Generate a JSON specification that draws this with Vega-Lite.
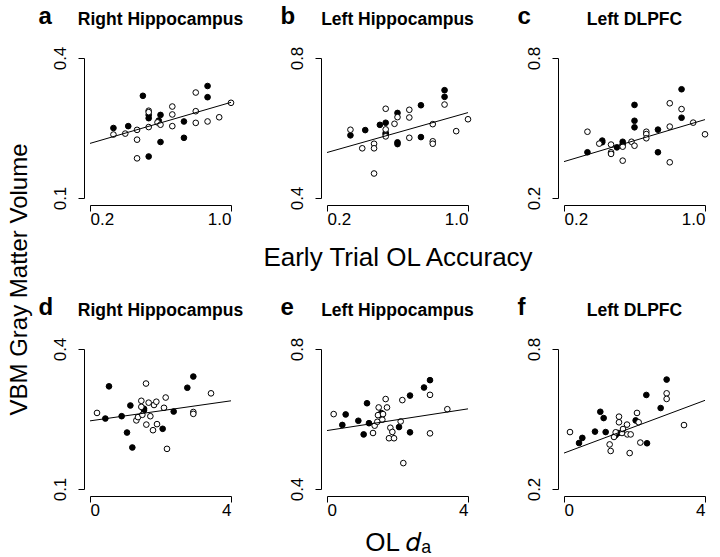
{
"$schema":"https://vega.github.io/schema/vega-lite/v6.json",
"background":"white",
"padding":{"left":7,"top":4,"right":5,"bottom":4},
"title":{"text":"VBM Gray Matter Volume","orient":"left","anchor":"middle","frame":"bounds","fontSize":24,"fontWeight":"normal","baseline":"bottom","offset":-18,"dy":0},
"datasets":{
"pts":[
{"p":"a","x":0.333,"y":0.250,"g":"f"},{"p":"a","x":0.417,"y":0.254,"g":"f"},{"p":"a","x":0.5,"y":0.319,"g":"f"},{"p":"a","x":0.533,"y":0.271,"g":"f"},{"p":"a","x":0.533,"y":0.278,"g":"f"},{"p":"a","x":0.6,"y":0.278,"g":"f"},{"p":"a","x":0.59,"y":0.266,"g":"f"},{"p":"a","x":0.733,"y":0.264,"g":"f"},{"p":"a","x":0.733,"y":0.229,"g":"f"},{"p":"a","x":0.6,"y":0.220,"g":"f"},{"p":"a","x":0.533,"y":0.189,"g":"f"},{"p":"a","x":0.867,"y":0.340,"g":"f"},{"p":"a","x":0.867,"y":0.316,"g":"f"},
{"p":"a","x":0.333,"y":0.236,"g":"o"},{"p":"a","x":0.4,"y":0.238,"g":"o"},{"p":"a","x":0.467,"y":0.246,"g":"o"},{"p":"a","x":0.467,"y":0.225,"g":"o"},{"p":"a","x":0.467,"y":0.185,"g":"o"},{"p":"a","x":0.533,"y":0.287,"g":"o"},{"p":"a","x":0.533,"y":0.284,"g":"o"},{"p":"a","x":0.533,"y":0.252,"g":"o"},{"p":"a","x":0.583,"y":0.262,"g":"o"},{"p":"a","x":0.6,"y":0.257,"g":"o"},{"p":"a","x":0.667,"y":0.296,"g":"o"},{"p":"a","x":0.667,"y":0.279,"g":"o"},{"p":"a","x":0.667,"y":0.254,"g":"o"},{"p":"a","x":0.8,"y":0.326,"g":"o"},{"p":"a","x":0.8,"y":0.286,"g":"o"},{"p":"a","x":0.8,"y":0.261,"g":"o"},{"p":"a","x":0.867,"y":0.264,"g":"o"},{"p":"a","x":0.933,"y":0.273,"g":"o"},{"p":"a","x":1.0,"y":0.304,"g":"o"},
{"p":"b","x":0.333,"y":0.579,"g":"f"},{"p":"b","x":0.417,"y":0.594,"g":"f"},{"p":"b","x":0.5,"y":0.609,"g":"f"},{"p":"b","x":0.533,"y":0.615,"g":"f"},{"p":"b","x":0.533,"y":0.586,"g":"f"},{"p":"b","x":0.533,"y":0.582,"g":"f"},{"p":"b","x":0.6,"y":0.643,"g":"f"},{"p":"b","x":0.6,"y":0.559,"g":"f"},{"p":"b","x":0.6,"y":0.554,"g":"f"},{"p":"b","x":0.733,"y":0.665,"g":"f"},{"p":"b","x":0.733,"y":0.574,"g":"f"},{"p":"b","x":0.867,"y":0.708,"g":"f"},{"p":"b","x":0.867,"y":0.689,"g":"f"},
{"p":"b","x":0.333,"y":0.595,"g":"o"},{"p":"b","x":0.4,"y":0.542,"g":"o"},{"p":"b","x":0.467,"y":0.555,"g":"o"},{"p":"b","x":0.467,"y":0.542,"g":"o"},{"p":"b","x":0.467,"y":0.470,"g":"o"},{"p":"b","x":0.533,"y":0.655,"g":"o"},{"p":"b","x":0.533,"y":0.596,"g":"o"},{"p":"b","x":0.533,"y":0.576,"g":"o"},{"p":"b","x":0.583,"y":0.612,"g":"o"},{"p":"b","x":0.6,"y":0.631,"g":"o"},{"p":"b","x":0.667,"y":0.652,"g":"o"},{"p":"b","x":0.667,"y":0.630,"g":"o"},{"p":"b","x":0.667,"y":0.572,"g":"o"},{"p":"b","x":0.8,"y":0.611,"g":"o"},{"p":"b","x":0.8,"y":0.562,"g":"o"},{"p":"b","x":0.8,"y":0.555,"g":"o"},{"p":"b","x":0.867,"y":0.667,"g":"o"},{"p":"b","x":0.933,"y":0.591,"g":"o"},{"p":"b","x":1.0,"y":0.625,"g":"o"},
{"p":"c","x":0.333,"y":0.396,"g":"f"},{"p":"c","x":0.417,"y":0.446,"g":"f"},{"p":"c","x":0.5,"y":0.417,"g":"f"},{"p":"c","x":0.533,"y":0.441,"g":"f"},{"p":"c","x":0.533,"y":0.430,"g":"f"},{"p":"c","x":0.6,"y":0.599,"g":"f"},{"p":"c","x":0.6,"y":0.531,"g":"f"},{"p":"c","x":0.6,"y":0.503,"g":"f"},{"p":"c","x":0.733,"y":0.493,"g":"f"},{"p":"c","x":0.733,"y":0.396,"g":"f"},{"p":"c","x":0.867,"y":0.666,"g":"f"},{"p":"c","x":0.867,"y":0.544,"g":"f"},{"p":"c","x":0.417,"y":0.439,"g":"f"},
{"p":"c","x":0.333,"y":0.484,"g":"o"},{"p":"c","x":0.4,"y":0.433,"g":"o"},{"p":"c","x":0.467,"y":0.429,"g":"o"},{"p":"c","x":0.467,"y":0.396,"g":"o"},{"p":"c","x":0.467,"y":0.389,"g":"o"},{"p":"c","x":0.533,"y":0.420,"g":"o"},{"p":"c","x":0.533,"y":0.360,"g":"o"},{"p":"c","x":0.583,"y":0.441,"g":"o"},{"p":"c","x":0.6,"y":0.424,"g":"o"},{"p":"c","x":0.667,"y":0.484,"g":"o"},{"p":"c","x":0.667,"y":0.474,"g":"o"},{"p":"c","x":0.667,"y":0.456,"g":"o"},{"p":"c","x":0.8,"y":0.606,"g":"o"},{"p":"c","x":0.8,"y":0.506,"g":"o"},{"p":"c","x":0.8,"y":0.353,"g":"o"},{"p":"c","x":0.867,"y":0.581,"g":"o"},{"p":"c","x":0.933,"y":0.523,"g":"o"},{"p":"c","x":1.0,"y":0.473,"g":"o"},
{"p":"d","x":0.435,"y":0.251,"g":"f"},{"p":"d","x":0.539,"y":0.320,"g":"f"},{"p":"d","x":0.898,"y":0.256,"g":"f"},{"p":"d","x":1.05,"y":0.221,"g":"f"},{"p":"d","x":1.145,"y":0.279,"g":"f"},{"p":"d","x":1.201,"y":0.189,"g":"f"},{"p":"d","x":1.532,"y":0.272,"g":"f"},{"p":"d","x":1.532,"y":0.269,"g":"f"},{"p":"d","x":2.061,"y":0.229,"g":"f"},{"p":"d","x":2.374,"y":0.266,"g":"f"},{"p":"d","x":2.761,"y":0.317,"g":"f"},{"p":"d","x":2.931,"y":0.341,"g":"f"},
{"p":"d","x":0.199,"y":0.263,"g":"o"},{"p":"d","x":1.315,"y":0.247,"g":"o"},{"p":"d","x":1.362,"y":0.254,"g":"o"},{"p":"d","x":1.456,"y":0.289,"g":"o"},{"p":"d","x":1.456,"y":0.276,"g":"o"},{"p":"d","x":1.589,"y":0.326,"g":"o"},{"p":"d","x":1.598,"y":0.238,"g":"o"},{"p":"d","x":1.664,"y":0.285,"g":"o"},{"p":"d","x":1.712,"y":0.256,"g":"o"},{"p":"d","x":1.787,"y":0.226,"g":"o"},{"p":"d","x":1.816,"y":0.28,"g":"o"},{"p":"d","x":1.882,"y":0.287,"g":"o"},{"p":"d","x":1.901,"y":0.239,"g":"o"},{"p":"d","x":2.099,"y":0.274,"g":"o"},{"p":"d","x":2.147,"y":0.296,"g":"o"},{"p":"d","x":2.184,"y":0.186,"g":"o"},{"p":"d","x":2.931,"y":0.265,"g":"o"},{"p":"d","x":2.931,"y":0.261,"g":"o"},{"p":"d","x":3.433,"y":0.305,"g":"o"},{"p":"d","x":1.485,"y":0.259,"g":"o"},
{"p":"e","x":0.435,"y":0.583,"g":"f"},{"p":"e","x":0.53,"y":0.613,"g":"f"},{"p":"e","x":0.889,"y":0.595,"g":"f"},{"p":"e","x":1.04,"y":0.556,"g":"f"},{"p":"e","x":1.135,"y":0.645,"g":"f"},{"p":"e","x":1.191,"y":0.588,"g":"f"},{"p":"e","x":1.541,"y":0.617,"g":"f"},{"p":"e","x":1.56,"y":0.611,"g":"f"},{"p":"e","x":2.043,"y":0.577,"g":"f"},{"p":"e","x":2.355,"y":0.667,"g":"f"},{"p":"e","x":2.355,"y":0.562,"g":"f"},{"p":"e","x":2.752,"y":0.69,"g":"f"},{"p":"e","x":2.922,"y":0.711,"g":"f"},
{"p":"e","x":0.189,"y":0.614,"g":"o"},{"p":"e","x":1.305,"y":0.56,"g":"o"},{"p":"e","x":1.352,"y":0.581,"g":"o"},{"p":"e","x":1.428,"y":0.592,"g":"o"},{"p":"e","x":1.447,"y":0.611,"g":"o"},{"p":"e","x":1.466,"y":0.633,"g":"o"},{"p":"e","x":1.57,"y":0.598,"g":"o"},{"p":"e","x":1.589,"y":0.614,"g":"o"},{"p":"e","x":1.664,"y":0.657,"g":"o"},{"p":"e","x":1.702,"y":0.633,"g":"o"},{"p":"e","x":1.797,"y":0.575,"g":"o"},{"p":"e","x":1.759,"y":0.545,"g":"o"},{"p":"e","x":1.854,"y":0.563,"g":"o"},{"p":"e","x":1.901,"y":0.545,"g":"o"},{"p":"e","x":2.09,"y":0.593,"g":"o"},{"p":"e","x":2.137,"y":0.654,"g":"o"},{"p":"e","x":2.165,"y":0.474,"g":"o"},{"p":"e","x":2.922,"y":0.669,"g":"o"},{"p":"e","x":2.922,"y":0.559,"g":"o"},{"p":"e","x":3.414,"y":0.628,"g":"o"},
{"p":"f","x":0.426,"y":0.397,"g":"f"},{"p":"f","x":0.52,"y":0.419,"g":"f"},{"p":"f","x":0.879,"y":0.446,"g":"f"},{"p":"f","x":1.03,"y":0.531,"g":"f"},{"p":"f","x":1.125,"y":0.504,"g":"f"},{"p":"f","x":1.182,"y":0.444,"g":"f"},{"p":"f","x":1.466,"y":0.431,"g":"f"},{"p":"f","x":1.532,"y":0.44,"g":"f"},{"p":"f","x":2.033,"y":0.494,"g":"f"},{"p":"f","x":2.336,"y":0.603,"g":"f"},{"p":"f","x":2.355,"y":0.396,"g":"f"},{"p":"f","x":2.742,"y":0.547,"g":"f"},{"p":"f","x":2.912,"y":0.669,"g":"f"},
{"p":"f","x":0.17,"y":0.444,"g":"o"},{"p":"f","x":1.295,"y":0.391,"g":"o"},{"p":"f","x":1.324,"y":0.363,"g":"o"},{"p":"f","x":1.418,"y":0.423,"g":"o"},{"p":"f","x":1.466,"y":0.443,"g":"o"},{"p":"f","x":1.56,"y":0.51,"g":"o"},{"p":"f","x":1.56,"y":0.486,"g":"o"},{"p":"f","x":1.645,"y":0.44,"g":"o"},{"p":"f","x":1.674,"y":0.457,"g":"o"},{"p":"f","x":1.787,"y":0.476,"g":"o"},{"p":"f","x":1.797,"y":0.434,"g":"o"},{"p":"f","x":1.863,"y":0.354,"g":"o"},{"p":"f","x":1.891,"y":0.434,"g":"o"},{"p":"f","x":2.071,"y":0.526,"g":"o"},{"p":"f","x":2.118,"y":0.486,"g":"o"},{"p":"f","x":2.165,"y":0.399,"g":"o"},{"p":"f","x":2.912,"y":0.61,"g":"o"},{"p":"f","x":2.912,"y":0.586,"g":"o"},{"p":"f","x":3.404,"y":0.474,"g":"o"}
],
"lines":[
{"p":"a","x":0.2,"y":0.217},{"p":"a","x":1.0,"y":0.305},
{"p":"b","x":0.2,"y":0.530},{"p":"b","x":1.0,"y":0.644},
{"p":"c","x":0.2,"y":0.356},{"p":"c","x":1.0,"y":0.536},
{"p":"d","x":0,"y":0.246},{"p":"d","x":4,"y":0.289},
{"p":"e","x":0,"y":0.567},{"p":"e","x":4,"y":0.629},
{"p":"f","x":0,"y":0.354},{"p":"f","x":4,"y":0.58}
]
},
"columns":3,
"bounds":"flush",
"spacing":{"row":151,"column":96},
"concat":[
{"width":141,"height":140,"title":{"text":"Right Hippocampus"},
 "encoding":{"x":{"field":"x","type":"quantitative","scale":{"domain":[0.2,1.0],"nice":false,"zero":false},"axis":{"values":[0.2,1.0],"format":".1f","title":null}},
  "y":{"field":"y","type":"quantitative","scale":{"domain":[0.1,0.4],"nice":false,"zero":false},"axis":{"values":[0.1,0.4],"format":".1f","title":"a"}}},
 "layer":[
  {"data":{"name":"pts"},"transform":[{"filter":"datum.p==='a'"}],"mark":{"type":"point","shape":"circle","filled":true,"size":32,"stroke":"black","strokeWidth":1,"opacity":1},"encoding":{"fill":{"field":"g","type":"nominal","scale":{"domain":["f","o"],"range":["black","white"]},"legend":null}}},
  {"data":{"name":"lines"},"transform":[{"filter":"datum.p==='a'"}],"mark":{"type":"line","color":"black","strokeWidth":1},"encoding":{}}
 ]},
{"width":141,"height":140,"title":{"text":"Left Hippocampus"},
 "encoding":{"x":{"field":"x","type":"quantitative","scale":{"domain":[0.2,1.0],"nice":false,"zero":false},"axis":{"values":[0.2,1.0],"format":".1f","title":"Early Trial OL Accuracy","titlePadding":17,"titleFontSize":26}},
  "y":{"field":"y","type":"quantitative","scale":{"domain":[0.4,0.8],"nice":false,"zero":false},"axis":{"values":[0.4,0.8],"format":".1f","title":"b","titleX":-41}}},
 "layer":[
  {"data":{"name":"pts"},"transform":[{"filter":"datum.p==='b'"}],"mark":{"type":"point","shape":"circle","filled":true,"size":32,"stroke":"black","strokeWidth":1,"opacity":1},"encoding":{"fill":{"field":"g","type":"nominal","scale":{"domain":["f","o"],"range":["black","white"]},"legend":null}}},
  {"data":{"name":"lines"},"transform":[{"filter":"datum.p==='b'"}],"mark":{"type":"line","color":"black","strokeWidth":1},"encoding":{}}
 ]},
{"width":141,"height":140,"title":{"text":"Left DLPFC"},
 "encoding":{"x":{"field":"x","type":"quantitative","scale":{"domain":[0.2,1.0],"nice":false,"zero":false},"axis":{"values":[0.2,1.0],"format":".1f","title":null}},
  "y":{"field":"y","type":"quantitative","scale":{"domain":[0.2,0.8],"nice":false,"zero":false},"axis":{"values":[0.2,0.8],"format":".1f","title":"c","titleX":-41}}},
 "layer":[
  {"data":{"name":"pts"},"transform":[{"filter":"datum.p==='c'"}],"mark":{"type":"point","shape":"circle","filled":true,"size":32,"stroke":"black","strokeWidth":1,"opacity":1},"encoding":{"fill":{"field":"g","type":"nominal","scale":{"domain":["f","o"],"range":["black","white"]},"legend":null}}},
  {"data":{"name":"lines"},"transform":[{"filter":"datum.p==='c'"}],"mark":{"type":"line","color":"black","strokeWidth":1},"encoding":{}}
 ]},
{"width":141,"height":140,"title":{"text":"Right Hippocampus"},
 "encoding":{"x":{"field":"x","type":"quantitative","scale":{"domain":[0,4],"nice":false,"zero":false},"axis":{"values":[0,4],"format":"d","title":null}},
  "y":{"field":"y","type":"quantitative","scale":{"domain":[0.1,0.4],"nice":false,"zero":false},"axis":{"values":[0.1,0.4],"format":".1f","title":"d"}}},
 "layer":[
  {"data":{"name":"pts"},"transform":[{"filter":"datum.p==='d'"}],"mark":{"type":"point","shape":"circle","filled":true,"size":32,"stroke":"black","strokeWidth":1,"opacity":1},"encoding":{"fill":{"field":"g","type":"nominal","scale":{"domain":["f","o"],"range":["black","white"]},"legend":null}}},
  {"data":{"name":"lines"},"transform":[{"filter":"datum.p==='d'"}],"mark":{"type":"line","color":"black","strokeWidth":1},"encoding":{}}
 ]},
{"width":141,"height":140,"title":{"text":"Left Hippocampus"},
 "encoding":{"x":{"field":"x","type":"quantitative","scale":{"domain":[0,4],"nice":false,"zero":false},"axis":{"values":[0,4],"format":"d","title":"OL 𝑑ₐ","titlePadding":11,"titleFontSize":26}},
  "y":{"field":"y","type":"quantitative","scale":{"domain":[0.4,0.8],"nice":false,"zero":false},"axis":{"values":[0.4,0.8],"format":".1f","title":"e","titleX":-41}}},
 "layer":[
  {"data":{"name":"pts"},"transform":[{"filter":"datum.p==='e'"}],"mark":{"type":"point","shape":"circle","filled":true,"size":32,"stroke":"black","strokeWidth":1,"opacity":1},"encoding":{"fill":{"field":"g","type":"nominal","scale":{"domain":["f","o"],"range":["black","white"]},"legend":null}}},
  {"data":{"name":"lines"},"transform":[{"filter":"datum.p==='e'"}],"mark":{"type":"line","color":"black","strokeWidth":1},"encoding":{}}
 ]},
{"width":141,"height":140,"title":{"text":"Left DLPFC"},
 "encoding":{"x":{"field":"x","type":"quantitative","scale":{"domain":[0,4],"nice":false,"zero":false},"axis":{"values":[0,4],"format":"d","title":null}},
  "y":{"field":"y","type":"quantitative","scale":{"domain":[0.2,0.8],"nice":false,"zero":false},"axis":{"values":[0.2,0.8],"format":".1f","title":"f","titleX":-41}}},
 "layer":[
  {"data":{"name":"pts"},"transform":[{"filter":"datum.p==='f'"}],"mark":{"type":"point","shape":"circle","filled":true,"size":32,"stroke":"black","strokeWidth":1,"opacity":1},"encoding":{"fill":{"field":"g","type":"nominal","scale":{"domain":["f","o"],"range":["black","white"]},"legend":null}}},
  {"data":{"name":"lines"},"transform":[{"filter":"datum.p==='f'"}],"mark":{"type":"line","color":"black","strokeWidth":1},"encoding":{}}
 ]}
],
"config":{
 "font":"Liberation Sans",
 "view":{"stroke":null},
 "title":{"font":"Liberation Sans","color":"black","fontSize":17.5,"fontWeight":"bold","anchor":"middle","frame":"group","baseline":"bottom","offset":0,"dy":28},
 "axis":{"grid":false,"domainColor":"black","tickColor":"black","labelColor":"black","titleColor":"black","tickSize":6,"domainWidth":1,"tickWidth":1,"labelFont":"Liberation Sans","titleFont":"Liberation Sans","labelFontSize":17},
 "axisX":{"offset":7,"labelPadding":0,"titleFontSize":24,"titleFontWeight":"normal","titlePadding":14},
 "axisY":{"offset":6,"labelAngle":-90,"labelPadding":9,"titleAngle":0,"titleFontSize":24,"titleFontWeight":"bold","titleAlign":"left","titleBaseline":"alphabetic","titleX":-46,"titleY":-35}
}
}
